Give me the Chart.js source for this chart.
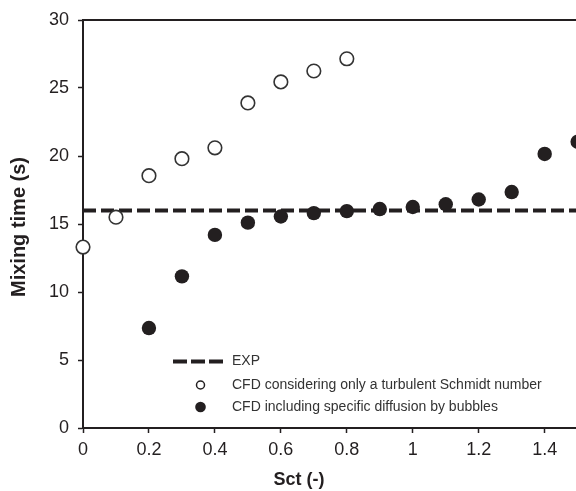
<!DOCTYPE html>
<html>
<head>
<meta charset="utf-8">
<script src="https://cdn.jsdelivr.net/npm/chart.js@4.4.0/dist/chart.umd.min.js"></script>
<style>
  html, body { margin: 0; padding: 0; background: #fff; }
  #wrap { width: 576px; height: 491px; }
</style>
</head>
<body>
<div id="wrap"><canvas id="c" width="576" height="491"></canvas></div>
<script>
// ---- Data ----
const sctOnly = [0, 0.1, 0.2, 0.3, 0.4, 0.5, 0.6, 0.7, 0.8];
const mixOnly = [13.3, 15.5, 18.55, 19.8, 20.6, 23.9, 25.45, 26.25, 27.15];
const sctBubbles = [0.2, 0.3, 0.4, 0.5, 0.6, 0.7, 0.8, 0.9, 1.0, 1.1, 1.2, 1.3, 1.4, 1.5];
const mixBubbles = [7.35, 11.15, 14.2, 15.1, 15.55, 15.8, 15.95, 16.1, 16.25, 16.45, 16.8, 17.35, 20.15, 21.05];
const expX = [0, 1.5];
const expY = [16, 16];
const xTicks = [0, 0.2, 0.4, 0.6, 0.8, 1, 1.2, 1.4];
const yTicks = [0, 5, 10, 15, 20, 25, 30];
const labels = ['EXP', 'CFD considering only a turbulent Schmidt number', 'CFD including specific diffusion by bubbles'];
const xTitle = 'Sct (-)';
const yTitle = 'Mixing time (s)';

const INK = '#231f20';
const FAM = '"Liberation Sans", Arial, sans-serif';
const toPts = (xs, ys) => xs.map((x, i) => ({x: x, y: ys[i]}));

// custom legend, axis titles + top border
const extras = {
  id: 'extras',
  afterDraw(chart) {
    const ctx = chart.ctx;
    const ca = chart.chartArea;
    ctx.save();
    // top border
    ctx.strokeStyle = INK;
    ctx.lineWidth = 2;
    ctx.beginPath();
    ctx.moveTo(ca.left - 1, ca.top);
    ctx.lineTo(chart.width, ca.top);
    ctx.stroke();

    // axis titles
    ctx.fillStyle = INK;
    ctx.font = 'bold 18px ' + FAM;
    ctx.textAlign = 'center';
    ctx.textBaseline = 'alphabetic';
    ctx.fillText(xTitle, 299, 485);
    ctx.save();
    ctx.translate(25, 227);
    ctx.rotate(-Math.PI / 2);
    ctx.font = 'bold 20px ' + FAM;
    ctx.fillText(yTitle, 0, 0);
    ctx.restore();

    // legend
    const rowY = [361.5, 385, 407];
    const textX = 232;
    ctx.font = '14px ' + FAM;
    ctx.textBaseline = 'middle';
    ctx.textAlign = 'left';
    // dashed sample
    ctx.strokeStyle = INK;
    ctx.lineWidth = 4;
    ctx.setLineDash([14, 4]);
    ctx.beginPath();
    ctx.moveTo(173, rowY[0]);
    ctx.lineTo(223, rowY[0]);
    ctx.stroke();
    ctx.setLineDash([]);
    // open circle
    ctx.lineWidth = 1.5;
    ctx.beginPath();
    ctx.arc(200.5, rowY[1], 4, 0, Math.PI * 2);
    ctx.fillStyle = '#fff';
    ctx.fill();
    ctx.stroke();
    // filled circle
    ctx.beginPath();
    ctx.arc(200.5, rowY[2], 5.3, 0, Math.PI * 2);
    ctx.fillStyle = INK;
    ctx.fill();
    ctx.fillStyle = '#333';
    for (let i = 0; i < labels.length; i++) {
      ctx.fillText(labels[i], textX, rowY[i]);
    }
    ctx.restore();
  }
};

new Chart(document.getElementById('c'), {
  type: 'scatter',
  data: {
    datasets: [
      {
        label: labels[2],
        data: toPts(sctBubbles, mixBubbles),
        backgroundColor: INK,
        borderColor: INK,
        borderWidth: 0,
        pointRadius: 7.2,
        clip: false,
      },
      {
        label: labels[1],
        data: toPts(sctOnly, mixOnly),
        backgroundColor: '#fff',
        borderColor: '#333',
        borderWidth: 1.6,
        pointRadius: 6.8,
        clip: false,
      },
      {
        type: 'line',
        label: labels[0],
        data: toPts(expX, expY),
        borderColor: INK,
        borderWidth: 4,
        borderDash: [13, 5],
        pointRadius: 0,
        fill: false,
      }
    ]
  },
  options: {
    responsive: false,
    animation: false,
    layout: { autoPadding: false, padding: { left: 0, right: 0, top: 20, bottom: 0 } },
    plugins: { legend: { display: false }, tooltip: { enabled: false } },
    scales: {
      x: {
        type: 'linear',
        min: 0, max: 1.495,
        afterBuildTicks(s) { s.ticks = xTicks.map(v => ({value: v})); },
        afterFit(s) { s.height = 63; s.paddingLeft = 0; s.paddingRight = 0; },
        grid: { display: true, drawOnChartArea: false, drawTicks: true, tickLength: 5, tickWidth: 1.5, tickColor: INK },
        border: { display: true, color: INK, width: 2 },
        ticks: {
          color: INK, padding: 6,
          font: { family: FAM, size: 18 },
          callback: v => String(v),
          maxRotation: 0, autoSkip: false
        },
        title: { display: false }
      },
      y: {
        type: 'linear',
        min: 0, max: 30,
        afterBuildTicks(s) { s.ticks = yTicks.map(v => ({value: v})); },
        afterFit(s) { s.width = 83; s.paddingTop = 0; s.paddingBottom = 0; },
        grid: { display: true, drawOnChartArea: false, drawTicks: true, tickLength: 5, tickWidth: 1.5, tickColor: INK },
        border: { display: true, color: INK, width: 2 },
        ticks: {
          color: INK, padding: 9,
          font: { family: FAM, size: 18 },
          callback: v => String(v)
        },
        title: { display: false }
      }
    }
  },
  plugins: [extras]
});
</script>
</body>
</html>
